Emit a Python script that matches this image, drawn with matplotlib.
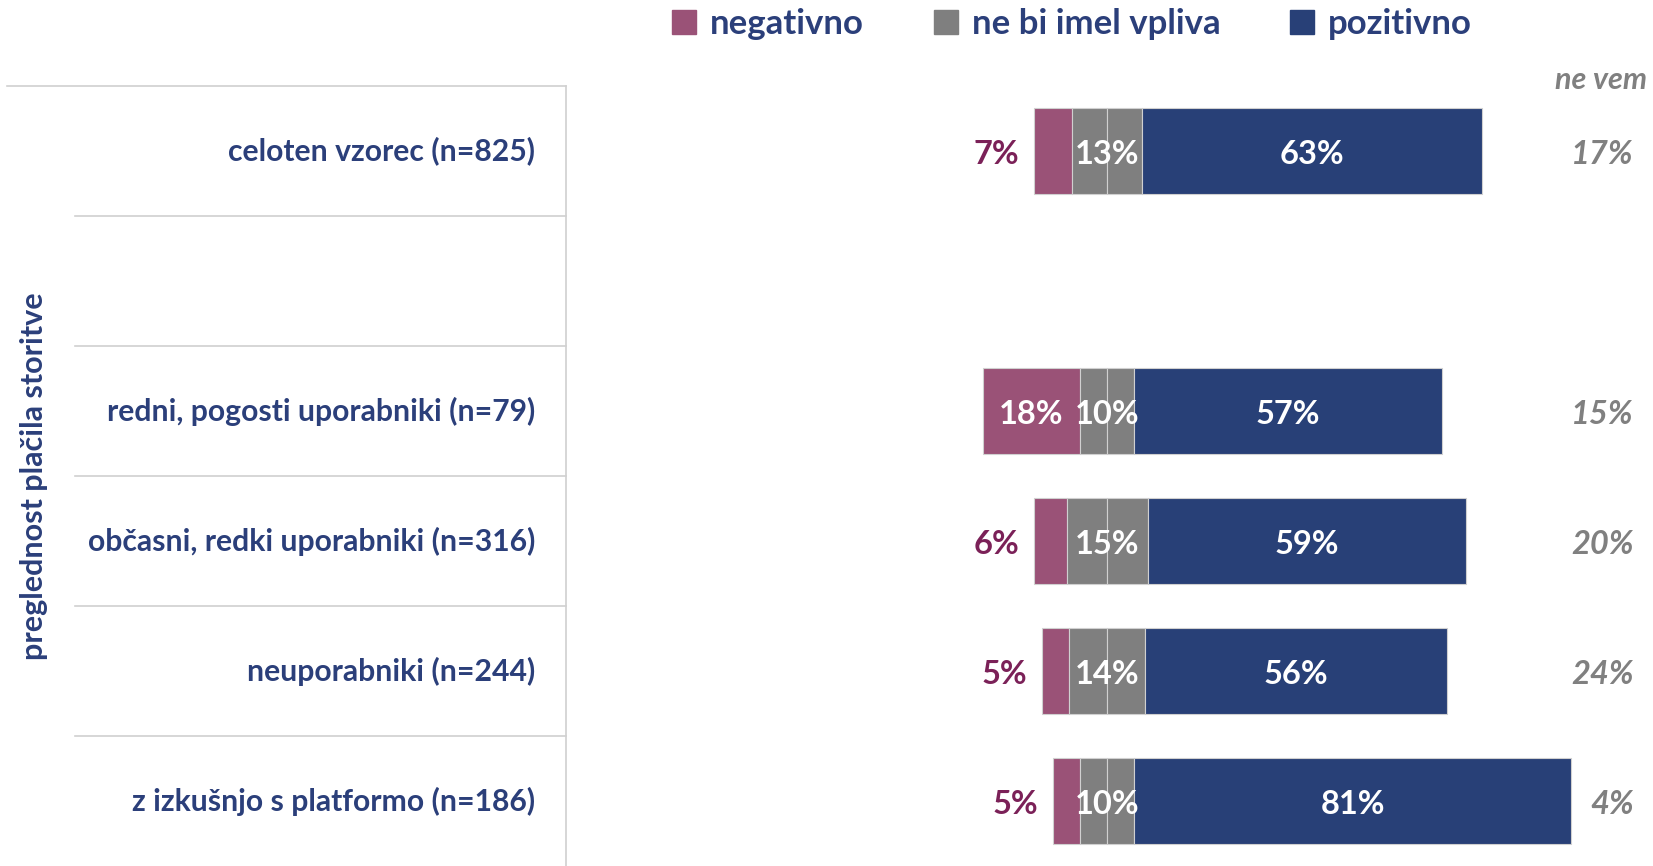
import numpy as np
import matplotlib
matplotlib.use("Agg")
import matplotlib.pyplot as plt
from matplotlib.patches import Patch

plt.rcParams["font.family"] = ["Lato", "DejaVu Sans"]

# ── data ─────────────────────────────────────────────────────────────
groups = ["celoten vzorec (n=825)", "",
          "redni, pogosti uporabniki (n=79)",
          "občasni, redki uporabniki (n=316)",
          "neuporabniki (n=244)",
          "z izkušnjo s platformo (n=186)"]
negativno = [7, None, 18, 6, 5, 5]
nevpliva  = [13, None, 10, 15, 14, 10]
pozitivno = [63, None, 57, 59, 56, 81]
ne_vem    = [17, None, 15, 20, 24, 4]

C_NEG, C_NEU, C_POS = "#9A5277", "#7F7F7F", "#284077"
C_TXT, C_NEGTXT, C_NV = "#2B3F7A", "#7B2158", "#808080"
EDGE = "#D0D0D0"

W, H = 1653, 866
CX, PX = 1107, 5.4            # pixel of centre line, pixels per percent
def px2x(p):
    return (p - CX) / PX

fig = plt.figure(figsize=(W / 100, H / 100), dpi=100)
ax = fig.add_axes([0, 0, 1, (H - 86) / H])
ax.set_xlim(px2x(0), px2x(W))
ax.set_ylim(5.5, -0.5)
ax.axis("off")

FS_LAB = 21.7
FS = 23.5
bh = 0.66
dy = 0.03                     # percent labels sit a touch lower
for i, g in enumerate(groups):
    ax.text(px2x(535), i, g, ha="right", va="center", fontsize=FS_LAB,
            fontweight="bold", color=C_TXT)
    if negativno[i] is None:
        continue
    n, m, p = negativno[i], nevpliva[i], pozitivno[i]
    ax.barh(i, n, left=-m / 2 - n, height=bh, color=C_NEG, edgecolor=EDGE, lw=0.8)
    ax.barh(i, m / 2, left=-m / 2, height=bh, color=C_NEU, edgecolor=EDGE, lw=0.8)
    ax.barh(i, m / 2, left=0, height=bh, color=C_NEU, edgecolor=EDGE, lw=0.8)
    ax.barh(i, p, left=m / 2, height=bh, color=C_POS, edgecolor=EDGE, lw=0.8)
    if n >= 10:
        ax.text(-m / 2 - n / 2, i + dy, f"{n}%", ha="center", va="center",
                fontsize=FS, fontweight="bold", color="white")
    else:
        ax.text(-m / 2 - n - 2.8, i + dy, f"{n}%", ha="right", va="center",
                fontsize=FS, fontweight="bold", color=C_NEGTXT)
    ax.text(0, i + dy, f"{m}%", ha="center", va="center", fontsize=FS,
            fontweight="bold", color="white")
    ax.text(m / 2 + p / 2, i + dy, f"{p}%", ha="center", va="center", fontsize=FS,
            fontweight="bold", color="white")
    ax.text(px2x(1634), i + dy, f"{ne_vem[i]}%", ha="right", va="center",
            fontsize=FS, fontweight="bold", style="italic", color=C_NV)

ax.text(px2x(1647), -0.545, "ne vem", ha="right", va="center", fontsize=22,
        fontweight="bold", style="italic", color=C_NV, clip_on=False)

# table lines on the left
ax.plot([px2x(7), px2x(566)], [-0.5, -0.5], color=EDGE, lw=1.2, clip_on=False)
for yy in np.arange(0.5, 5.0, 1.0):
    ax.plot([px2x(75), px2x(566)], [yy, yy], color=EDGE, lw=1.2)
ax.plot([px2x(566), px2x(566)], [-0.5, 5.6], color=EDGE, lw=1.2, clip_on=False)

fig.text(34 / W, 1 - 476 / H, "preglednost plačila storitve", rotation=90,
         ha="center", va="center", fontsize=22, fontweight="bold", color=C_TXT)

handles = [Patch(color=C_NEG), Patch(color=C_NEU), Patch(color=C_POS)]
fig.legend(handles, ["negativno", "ne bi imel vpliva", "pozitivno"], ncol=3,
           loc="center", bbox_to_anchor=(1072 / W, 1 - 24 / H), frameon=False,
           prop={"size": 25, "weight": "bold"}, labelcolor=C_TXT,
           handlelength=0.7, handleheight=0.7, handletextpad=0.4,
           columnspacing=2.0)

fig.savefig("out.png", dpi=100)
